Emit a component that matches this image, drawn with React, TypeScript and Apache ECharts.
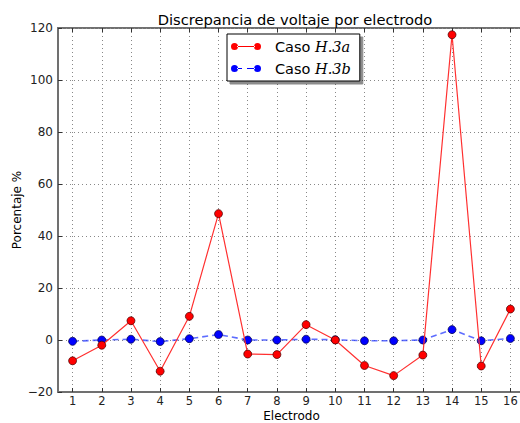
import React, { useEffect, useRef } from "react";
import * as echarts from "echarts";

const electrodes = [1, 2, 3, 4, 5, 6, 7, 8, 9, 10, 11, 12, 13, 14, 15, 16];
const casoA = [-8, -2, 7.4, -12, 9.1, 48.6, -5.4, -5.6, 5.9, 0, -9.8, -13.7, -5.8, 117.4, -10, 11.9];
const casoB = [-0.5, 0, 0.3, -0.6, 0.5, 2.1, 0, 0, 0.3, 0.1, -0.3, -0.3, 0, 4.0, -0.3, 0.6];
const seriesNames = ["Caso H.3a", "Caso H.3b"];
const yTicks = { min: -20, max: 120, interval: 20 };

const circle = (cx: number) =>
  `M${cx - 3.5},4a3.5,3.5 0 1,0 7,0a3.5,3.5 0 1,0 -7,0Z`;
const iconSolid = `path://${circle(3.5)}M6,3.5L24,3.5L24,4.5L6,4.5Z${circle(26.5)}`;
const iconDashed = `path://${circle(3.5)}M6,3.5L11,3.5L11,4.5L6,4.5ZM16,3.5L24,3.5L24,4.5L16,4.5Z${circle(26.5)}`;

const FONT = "DejaVu Sans";

export default function App() {
  const ref = useRef<HTMLDivElement>(null);
  useEffect(() => {
    if (!ref.current) return;
    const chart = echarts.init(ref.current, undefined, { renderer: "svg" });
    const xData = (vals: number[]) => electrodes.map((e, i) => [e, vals[i]]);
    const axisLineStyle = { color: "#707070", width: 2 };
    chart.setOption({
      animation: false,
      backgroundColor: "#fff",
      textStyle: { fontFamily: FONT },
      title: {
        text: "Discrepancia de voltaje por electrodo",
        left: 290,
        textAlign: "center",
        top: 7,
        textStyle: { fontFamily: FONT, fontSize: 14.7, fontWeight: "normal", color: "#000" },
      },
      grid: {
        left: 58,
        top: 28,
        bottom: 31,
        right: -5,
        outerBoundsMode: "none",
        containLabel: false,
        show: true,
        borderColor: "#707070",
        borderWidth: 2,
        backgroundColor: "transparent",
      },
      legend: {
        left: 227,
        top: 34,
        orient: "vertical",
        itemWidth: 30,
        itemHeight: 8,
        itemGap: 7,
        padding: [5, 9, 5, 4],
        backgroundColor: "#fff",
        borderColor: "#000",
        borderWidth: 1,
        shadowColor: "rgba(0,0,0,0.45)",
        shadowBlur: 0,
        shadowOffsetX: 3,
        shadowOffsetY: 3,
        itemStyle: { borderWidth: 0 },
        data: [
          { name: seriesNames[0], icon: iconSolid },
          { name: seriesNames[1], icon: iconDashed },
        ],
        formatter: (name: string) => {
          const parts = name.split(" ");
          return `{n|${parts[0]} }{m|${parts[1]}}`;
        },
        textStyle: {
          fontSize: 14,
          color: "#000",
          rich: {
            n: { fontFamily: FONT, fontSize: 14.5, padding: [0, 0, 0, 9], color: "#000" },
            m: { fontFamily: "DejaVu Serif", fontStyle: "italic", fontSize: 14.5, color: "#000" },
          },
        },
      },
      xAxis: [
        {
          type: "value",
          min: 0.5,
          max: 16.5,
          name: "Electrodo",
          nameLocation: "middle",
          nameGap: 18,
          nameMoveOverlap: false,
          nameTextStyle: { fontFamily: FONT, fontSize: 12, color: "#000" },
          axisLine: { show: true, onZero: false, lineStyle: axisLineStyle },
          axisTick: { show: true, inside: true, length: 4, customValues: electrodes, lineStyle: { color: "#333" } },
          axisLabel: { customValues: electrodes, fontFamily: FONT, fontSize: 11.5, color: "#222", margin: 3 },
          splitLine: { show: true, lineStyle: { color: "#888", type: [1, 3], width: 1 } },
        },
        {
          type: "value",
          position: "top",
          min: 0.5,
          max: 16.5,
          axisLine: { show: false, onZero: false },
          axisTick: { show: true, inside: true, length: 4, customValues: electrodes, lineStyle: { color: "#333" } },
          axisLabel: { show: false },
          splitLine: { show: false },
        },
      ],
      yAxis: {
        type: "value",
        min: yTicks.min,
        max: yTicks.max,
        interval: yTicks.interval,
        name: "Porcentaje %",
        nameLocation: "middle",
        nameGap: 35,
        nameMoveOverlap: false,
        nameTextStyle: { fontFamily: FONT, fontSize: 12, color: "#000" },
        axisLine: { show: true, onZero: false, lineStyle: axisLineStyle },
        axisTick: { show: true, inside: true, length: 4, lineStyle: { color: "#333" } },
        axisLabel: {
          fontFamily: FONT,
          fontSize: 12,
          color: "#222",
          margin: 5,
          formatter: (v: number) => String(v).replace("-", "\u2212"),
        },
        splitLine: { show: true, lineStyle: { color: "#888", type: [1, 3], width: 1 } },
      },
      series: [
        {
          name: seriesNames[0],
          type: "line",
          data: xData(casoA),
          symbol: "circle",
          symbolSize: 8,
          lineStyle: { color: "#ff3030", width: 1.2 },
          itemStyle: { color: "#ff0000", borderColor: "#400", borderWidth: 0.7 },
          z: 3,
        },
        {
          name: seriesNames[1],
          type: "line",
          data: xData(casoB),
          symbol: "circle",
          symbolSize: 8,
          lineStyle: { color: "rgba(40,60,255,0.75)", width: 1.6, type: [6, 4] },
          itemStyle: { color: "#0000ff", borderColor: "#004", borderWidth: 0.7 },
          z: 2,
        },
      ],
    });
    return () => chart.dispose();
  }, []);
  return (
    <div
      ref={ref}
      style={{ position: "absolute", left: 0, top: 0, width: 520, height: 423 }}
    />
  );
}
